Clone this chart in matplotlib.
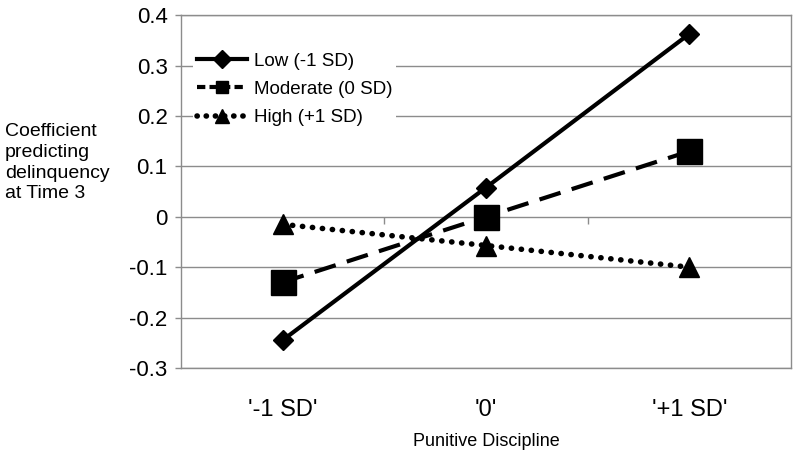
import matplotlib
matplotlib.use("Agg")
import matplotlib.pyplot as plt
from matplotlib.lines import Line2D
import numpy as np

plt.rcParams["font.family"] = ["Liberation Sans", "DejaVu Sans"]

categories = ["'-1 SD'", "'0'", "'+1 SD'"]
low = [-0.245, 0.058, 0.363]
moderate = [-0.13, 0.0, 0.13]
high = [-0.015, -0.057, -0.1]
series_names = ["Low (-1 SD)", "Moderate (0 SD)", "High (+1 SD)"]
yticks = [-0.3, -0.2, -0.1, 0, 0.1, 0.2, 0.3, 0.4]
ytick_labels = ["-0.3", "-0.2", "-0.1", "0", "0.1", "0.2", "0.3", "0.4"]

grid_col = "#8c8c8c"

fig = plt.figure(figsize=(8, 4.58), dpi=100)
ax = fig.add_axes([0.226, 0.1965, 0.763, 0.7705])

x = np.arange(len(categories))

ax.plot(x, low, color="black", lw=3, marker="D", ms=10, zorder=4)
ax.plot(x, moderate, color="black", lw=3, linestyle=(0, (5.3, 2.8)),
        marker="s", ms=18, zorder=4)
ax.plot(x, high, color="black", lw=4, linestyle=(0, (0.05, 1.75)),
        dash_capstyle="round", marker="^", ms=15, zorder=4)

ax.set_xlim(-0.5, len(categories) - 0.5)
ax.set_ylim(-0.3, 0.4)
ax.set_yticks(yticks)
ax.set_yticklabels(ytick_labels, fontsize=16)
ax.set_xticks(x)
ax.set_xticklabels(categories, fontsize=17)
ax.tick_params(axis="x", length=0, pad=22)
ax.tick_params(axis="y", length=4.5, pad=5, color=grid_col, width=1)

ax.grid(axis="y", color=grid_col, lw=1)
ax.set_axisbelow(True)
for s in ax.spines.values():
    s.set_color(grid_col)
    s.set_linewidth(1)

# category separator ticks on the zero line
ax.vlines(x[:-1] + 0.5, -0.014, 0, color=grid_col, lw=1, zorder=1)

ax.set_xlabel("Punitive Discipline", fontsize=13, labelpad=9)

fig.text(0.006, 0.645, "Coefficient\npredicting\ndelinquency\nat Time 3",
         fontsize=14, ha="left", va="center", linespacing=1.3)

handles = [
    Line2D([], [], color="black", lw=3, marker="D", ms=9),
    Line2D([], [], color="black", lw=3, linestyle=(0, (2.0, 1.0)), marker="s", ms=8),
    Line2D([], [], color="black", lw=4, linestyle=(0, (0.05, 1.6)),
           dash_capstyle="round", marker="^", ms=10),
]
leg = ax.legend(handles, series_names, loc="upper left", bbox_to_anchor=(0.02, 0.905),
                fontsize=13.5, frameon=True, framealpha=1, edgecolor="none",
                handlelength=2.7, handletextpad=0.35, labelspacing=0.6,
                borderpad=0.2, borderaxespad=0)
leg.get_frame().set_boxstyle("square", pad=0)

fig.savefig("out.png", dpi=100)
